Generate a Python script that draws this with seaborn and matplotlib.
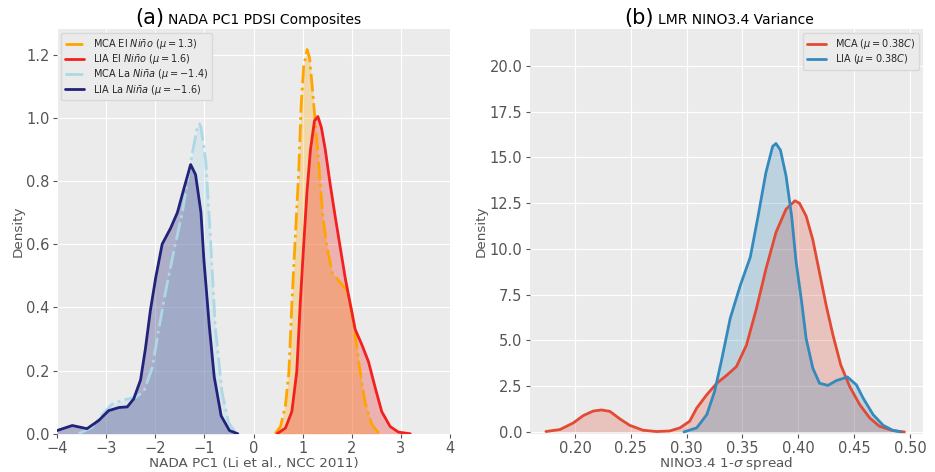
import numpy as np
import pandas as pd
import seaborn as sns
import matplotlib
matplotlib.use("Agg")
import matplotlib.pyplot as plt
from matplotlib.lines import Line2D

# ---------------- data ----------------
# Panel (a): NADA PC1 PDSI composite densities
mca_nino_x = [0.44, 0.55, 0.65, 0.72, 0.78, 0.85, 0.92, 0.97, 1.02, 1.09, 1.14, 1.20, 1.26,
              1.33, 1.41, 1.49, 1.60, 1.73, 1.90, 2.00, 2.08, 2.17, 2.27, 2.41, 2.55]
mca_nino_y = [0.0, 0.023, 0.09, 0.196, 0.41, 0.62, 0.83, 1.04, 1.16, 1.216, 1.19, 1.09, 0.98,
              0.85, 0.69, 0.595, 0.51, 0.485, 0.453, 0.385, 0.30, 0.196, 0.10, 0.028, 0.002]

lia_nino_x = [0.48, 0.65, 0.78, 0.88, 0.95, 1.02, 1.09, 1.16, 1.24, 1.31, 1.38, 1.46, 1.56,
              1.66, 1.77, 1.87, 1.97, 2.07, 2.21, 2.34, 2.48, 2.61, 2.78, 2.95, 3.19]
lia_nino_y = [0.0, 0.018, 0.07, 0.196, 0.41, 0.595, 0.77, 0.90, 0.99, 1.004, 0.97, 0.90, 0.79,
              0.69, 0.585, 0.49, 0.41, 0.33, 0.28, 0.228, 0.144, 0.07, 0.023, 0.005, 0.0]

mca_nina_x = [-3.56, -3.29, -3.08, -2.88, -2.67, -2.40, -2.23, -2.06, -1.93, -1.79, -1.62,
              -1.45, -1.28, -1.14, -1.10, -1.07, -0.97, -0.87, -0.78, -0.64, -0.51, -0.37]
mca_nina_y = [0.0, 0.02, 0.06, 0.094, 0.106, 0.115, 0.135, 0.21, 0.33, 0.45, 0.58,
              0.70, 0.86, 0.974, 0.98, 0.97, 0.86, 0.60, 0.34, 0.13, 0.036, 0.003]

lia_nina_x = [-4.0, -3.69, -3.39, -3.15, -2.95, -2.74, -2.57, -2.44, -2.30, -2.20, -2.10,
              -1.99, -1.86, -1.69, -1.55, -1.41, -1.28, -1.18, -1.07, -1.01, -0.90, -0.80,
              -0.66, -0.49, -0.32]
lia_nina_y = [0.01, 0.026, 0.016, 0.042, 0.073, 0.083, 0.085, 0.11, 0.17, 0.27, 0.39,
              0.495, 0.60, 0.65, 0.70, 0.78, 0.852, 0.82, 0.70, 0.55, 0.34, 0.18,
              0.057, 0.01, 0.0]

labels_a = [r"MCA El $\it{Niño}$ ($\mu = 1.3$)",
            r"LIA El $\it{Niño}$ ($\mu = 1.6$)",
            r"MCA La $\it{Niña}$ ($\mu = -1.4$)",
            r"LIA La $\it{Niña}$ ($\mu = -1.6$)"]

# Panel (b): LMR NINO3.4 1-sigma spread densities
mca_var_x = [0.174, 0.1866, 0.1985, 0.2074, 0.2164, 0.2238, 0.2313, 0.240, 0.249, 0.261,
             0.273, 0.2848, 0.294, 0.3027, 0.309, 0.318, 0.327, 0.336, 0.3446, 0.3536,
             0.3625, 0.371, 0.380, 0.389, 0.397, 0.401, 0.407, 0.413, 0.419, 0.425,
             0.431, 0.438, 0.446, 0.455, 0.464, 0.4726, 0.4845, 0.495]
mca_var_y = [0.02, 0.13, 0.49, 0.89, 1.14, 1.2, 1.12, 0.72, 0.36, 0.09,
             0.02, 0.05, 0.22, 0.58, 1.3, 2.03, 2.66, 3.1, 3.57, 4.75,
             6.74, 8.9, 10.9, 12.17, 12.63, 12.5, 11.8, 10.5, 8.7, 6.9,
             5.3, 3.66, 2.48, 1.49, 0.76, 0.31, 0.07, 0.0]

lia_var_x = [0.2976, 0.309, 0.318, 0.325, 0.331, 0.339, 0.348, 0.357, 0.364, 0.371, 0.377,
             0.380, 0.384, 0.389, 0.394, 0.398, 0.403, 0.407, 0.413, 0.419, 0.4265, 0.434,
             0.444, 0.452, 0.458, 0.467, 0.476, 0.4845, 0.492]
lia_var_y = [0.0, 0.22, 0.94, 2.2, 3.84, 6.2, 8.0, 9.55, 11.8, 14.17, 15.6,
             15.76, 15.4, 14.0, 11.8, 9.3, 7.1, 5.1, 3.48, 2.66, 2.54, 2.8,
             3.0, 2.57, 1.85, 0.94, 0.36, 0.09, 0.0]

labels_b = [r"MCA ($\mu = 0.38C$)", r"LIA ($\mu = 0.38C$)"]

# ---------------- style ----------------
sns.set_style("darkgrid", {
    "axes.facecolor": "#EBEBEB",
    "grid.color": "white",
    "axes.edgecolor": "#EBEBEB",
    "xtick.bottom": True,
    "ytick.left": True,
})
plt.rcParams["font.family"] = ["DejaVu Sans"]
plt.rcParams["xtick.color"] = "#555555"
plt.rcParams["ytick.color"] = "#555555"
plt.rcParams["xtick.major.size"] = 3
plt.rcParams["ytick.major.size"] = 3
plt.rcParams["axes.labelcolor"] = "#555555"

TICK_FS = 10.5
LABEL_FS = 9.7
LEG_FS = 7

fig = plt.figure(figsize=(9.35, 4.72), dpi=100)
ax1 = fig.add_axes([0.061, 0.0811, 0.4203, 0.8568])
ax2 = fig.add_axes([0.5668, 0.0811, 0.4203, 0.8568])

leg_kw = dict(fontsize=LEG_FS, frameon=True, facecolor="#EBEBEB", edgecolor="#D8D8D8",
              framealpha=1, handlelength=2.0, handletextpad=0.9, borderpad=0.4,
              labelspacing=0.12, borderaxespad=0.4)

# ---------------- panel (a) ----------------
curves_a = [
    (mca_nino_x, mca_nino_y, "#FFA500", "-.", 0.28),
    (lia_nino_x, lia_nino_y, "#F2201E", "-", 0.28),
    (mca_nina_x, mca_nina_y, "#ADD8E6", "-.", 0.3),
    (lia_nina_x, lia_nina_y, "#22227A", "-", 0.3),
]
handles = []
for (xs, ys, col, ls, al), lab in zip(curves_a, labels_a):
    df = pd.DataFrame({"x": xs, "y": ys})
    sns.lineplot(data=df, x="x", y="y", ax=ax1, color=col, linestyle=ls, lw=2,
                 sort=False, estimator=None)
    ax1.fill_between(df["x"], df["y"], color=col, alpha=al, lw=0)
    handles.append(Line2D([], [], color=col, linestyle=ls, lw=2, label=lab))

ax1.set_xlim(-4, 4)
ax1.set_ylim(0, 1.28)
ax1.set_xticks(range(-4, 5))
ax1.set_xticklabels([str(v).replace("-", "\u2212") for v in range(-4, 5)])
ax1.set_yticks([0.0, 0.2, 0.4, 0.6, 0.8, 1.0, 1.2])
ax1.tick_params(labelsize=TICK_FS, pad=2.5)
ax1.set_xlabel("NADA PC1 (Li et al., NCC 2011)", fontsize=LABEL_FS, labelpad=0.5)
ax1.set_ylabel("Density", fontsize=LABEL_FS, labelpad=1)
ax1.legend(handles=handles, loc="upper left", **leg_kw)
ax1.text(0.272, 1.012, "(a)", transform=ax1.transAxes, ha="right", va="baseline",
         fontsize=15, color="black")
ax1.text(0.282, 1.012, "NADA PC1 PDSI Composites", transform=ax1.transAxes,
         ha="left", va="baseline", fontsize=10, color="black")

# ---------------- panel (b) ----------------
curves_b = [
    (mca_var_x, mca_var_y, "#E24A33"),
    (lia_var_x, lia_var_y, "#348ABD"),
]
handles_b = []
for (xs, ys, col), lab in zip(curves_b, labels_b):
    df = pd.DataFrame({"x": xs, "y": ys})
    sns.lineplot(data=df, x="x", y="y", ax=ax2, color=col, lw=2,
                 sort=False, estimator=None)
    ax2.fill_between(df["x"], df["y"], color=col, alpha=0.25, lw=0)
    handles_b.append(Line2D([], [], color=col, lw=2, label=lab))

ax2.set_xlim(0.1597, 0.5116)
ax2.set_ylim(-0.1, 22)
ax2.set_xticks([0.20, 0.25, 0.30, 0.35, 0.40, 0.45, 0.50])
ax2.set_xticklabels(["0.20", "0.25", "0.30", "0.35", "0.40", "0.45", "0.50"])
ax2.set_yticks([0.0, 2.5, 5.0, 7.5, 10.0, 12.5, 15.0, 17.5, 20.0])
ax2.set_yticklabels(["0.0", "2.5", "5.0", "7.5", "10.0", "12.5", "15.0", "17.5", "20.0"])
ax2.tick_params(labelsize=TICK_FS, pad=2.5)
ax2.set_xlabel(r"NINO3.4 1-$\sigma$ spread", fontsize=LABEL_FS, labelpad=-1.2)
ax2.set_ylabel("Density", fontsize=LABEL_FS, labelpad=1)
ax2.legend(handles=handles_b, loc="upper right", **leg_kw)
ax2.text(0.3155, 1.012, "(b)", transform=ax2.transAxes, ha="right", va="baseline",
         fontsize=15, color="black")
ax2.text(0.3257, 1.012, "LMR NINO3.4 Variance", transform=ax2.transAxes,
         ha="left", va="baseline", fontsize=10, color="black")

for ax in (ax1, ax2):
    for s in ax.spines.values():
        s.set_visible(False)

fig.savefig("out.png", dpi=100)
